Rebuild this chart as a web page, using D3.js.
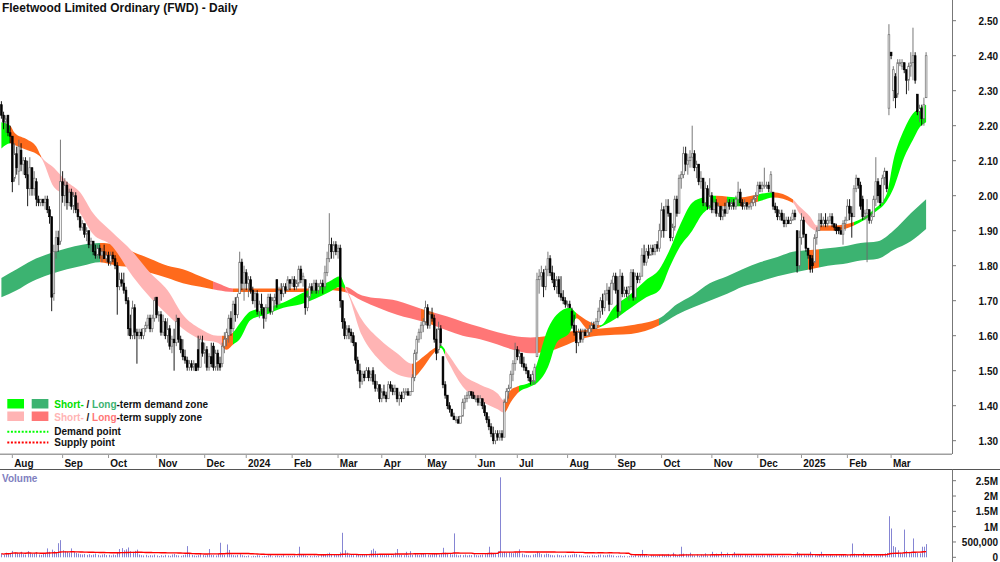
<!DOCTYPE html>
<html>
<head>
<meta charset="utf-8">
<script src="https://cdn.jsdelivr.net/npm/d3@7"></script>
<style>
  body { margin: 0; background: #fff; }
  svg { display: block; font-family: "Liberation Sans", Arial, sans-serif; }
</style>
</head>
<body>
<svg id="chart" width="1000" height="562"></svg>
<script>
// trading days start here, weekends and ASX holidays skipped
var startDate = "2023-07-25";
var holidays = ["2023-12-25", "2023-12-26", "2024-01-01", "2024-01-26", "2024-03-29", "2024-04-01",
                "2024-04-25", "2024-06-10", "2024-12-25", "2024-12-26", "2025-01-01", "2025-01-27"];

var monthLabels = ["Aug", "Sep", "Oct", "Nov", "Dec", "2024", "Feb", "Mar", "Apr", "May", "Jun",
                   "Jul", "Aug", "Sep", "Oct", "Nov", "Dec", "2025", "Feb", "Mar"];

var priceTicks = [1.30, 1.40, 1.50, 1.60, 1.70, 1.80, 1.90, 2.00, 2.10, 2.20, 2.30, 2.40, 2.50];
var volTicks = [0, 500000, 1000000, 1500000, 2000000, 2500000];
var volTickLabels = ["0", "500,000", "1M", "1.5M", "2M", "2.5M"];

// daily prices, one line per month (Jul 2023 .. Mar 2025)
var opens = [
  2.26,2.23,2.21,2.23,2.18,
  2.17,2.05,2.12,2.07,2.13,2.09,2.10,2.06,2.02,2.08,2.02,2.04,1.99,1.98,1.99,1.98,1.99,1.96,1.94,1.72,1.84,1.88,1.87,
  2.04,2.00,2.03,1.98,2.01,1.97,2.00,1.96,1.94,1.91,1.92,1.89,1.90,1.86,1.87,1.84,1.83,1.85,1.83,1.84,1.82,
  1.83,1.81,1.83,1.82,1.80,1.74,1.76,1.75,1.73,1.70,1.62,1.60,1.68,1.61,1.60,1.61,1.60,1.62,1.63,1.65,1.62,1.65,
  1.71,1.66,1.66,1.61,1.64,1.60,1.62,1.57,1.59,1.58,1.65,1.59,1.56,1.54,1.53,1.51,1.52,1.51,1.52,1.56,1.51,1.58,
  1.55,1.56,1.51,1.54,1.57,1.51,1.55,1.52,1.52,1.57,1.59,1.60,1.65,1.62,1.69,1.66,1.72,1.81,1.75,
  1.78,1.75,1.76,1.73,1.70,1.72,1.67,1.69,1.68,1.65,1.68,1.71,1.67,1.70,1.76,1.69,1.73,1.72,1.74,1.73,1.76,
  1.75,1.76,1.74,1.75,1.79,1.76,1.76,1.68,1.71,1.74,1.73,1.75,1.73,1.74,1.75,1.74,1.78,1.82,1.86,1.84,1.86,
  1.84,1.85,1.70,1.64,1.60,1.62,1.61,1.60,1.58,1.53,1.50,1.47,1.49,1.48,1.50,1.48,1.50,1.47,1.45,1.46,
  1.42,1.44,1.43,1.42,1.46,1.45,1.44,1.45,1.42,1.43,1.42,1.44,1.44,1.43,1.44,1.48,1.55,1.59,1.61,1.63,
  1.64,1.68,1.63,1.66,1.65,1.59,1.56,1.62,1.54,1.46,1.43,1.40,1.39,1.37,1.36,1.36,1.35,1.37,1.41,1.42,1.43,1.44,1.43,
  1.42,1.42,1.41,1.42,1.40,1.38,1.36,1.34,1.32,1.30,1.32,1.31,1.32,1.31,1.41,1.44,1.45,1.49,1.52,
  1.56,1.54,1.55,1.52,1.51,1.50,1.48,1.47,1.47,1.54,1.76,1.77,1.78,1.74,1.79,1.82,1.78,1.76,1.74,1.76,1.72,1.71,1.70,
  1.69,1.69,1.67,1.63,1.61,1.58,1.61,1.59,1.61,1.60,1.61,1.62,1.63,1.62,1.64,1.67,1.70,1.68,1.72,1.73,1.69,1.75,
  1.77,1.73,1.67,1.77,1.72,1.73,1.72,1.74,1.78,1.71,1.77,1.76,1.77,1.83,1.81,1.84,1.83,1.85,1.84,1.86,1.85,
  1.90,1.96,1.90,1.97,1.95,1.88,1.91,1.99,1.95,2.05,2.06,2.12,2.09,2.10,2.11,2.12,2.08,2.09,2.04,2.05,1.98,2.02,1.97,
  2.00,1.96,1.98,1.95,1.97,1.94,1.96,1.95,1.98,1.97,1.98,1.97,1.99,2.01,1.98,1.97,1.98,1.97,1.97,1.98,1.99,
  2.00,2.03,2.02,2.03,2.03,2.03,2.01,2.01,1.97,1.96,1.94,1.95,1.93,1.92,1.93,1.92,1.93,1.95,1.90,1.80,
  1.88,1.93,1.89,1.85,1.83,1.82,1.81,1.88,1.90,1.93,1.92,1.93,1.92,1.93,1.94,1.92,1.91,1.91,1.90,1.89,1.92,
  1.93,1.97,1.95,1.94,2.02,2.05,2.03,1.99,1.94,1.95,1.96,1.93,1.94,1.99,2.04,2.03,1.98,2.05,2.07,2.25,
  2.41,2.30,2.34,2.29,2.38,2.37,2.38,2.36,2.33,2.37,2.38,2.40,2.29,2.24,2.25,2.22,2.28
];
var highs = [
  2.27,2.24,2.23,2.23,2.20,
  2.17,2.15,2.14,2.16,2.15,2.11,2.11,2.10,2.11,2.08,2.07,2.05,2.00,1.99,1.99,2.00,2.00,1.97,1.94,1.86,1.90,1.90,2.16,
  2.07,2.05,2.04,2.02,2.02,2.01,2.01,1.98,1.94,1.93,1.92,1.91,1.90,1.88,1.87,1.86,1.86,1.86,1.85,1.86,1.84,
  1.84,1.84,1.84,1.83,1.81,1.78,1.78,1.78,1.74,1.71,1.66,1.70,1.69,1.62,1.62,1.62,1.62,1.64,1.66,1.66,1.66,1.71,
  1.71,1.67,1.67,1.66,1.65,1.65,1.63,1.60,1.62,1.66,1.65,1.60,1.59,1.56,1.54,1.53,1.53,1.53,1.52,1.60,1.60,1.60,
  1.58,1.57,1.55,1.58,1.58,1.56,1.56,1.54,1.58,1.61,1.62,1.66,1.67,1.70,1.71,1.72,1.84,1.82,1.80,
  1.79,1.77,1.77,1.74,1.73,1.73,1.70,1.72,1.68,1.69,1.72,1.72,1.71,1.72,1.76,1.74,1.75,1.75,1.75,1.77,1.76,
  1.77,1.77,1.76,1.80,1.80,1.78,1.76,1.72,1.75,1.75,1.76,1.76,1.75,1.76,1.76,1.80,1.84,1.95,1.88,1.87,1.87,
  1.86,1.86,1.70,1.65,1.63,1.63,1.62,1.61,1.58,1.54,1.52,1.50,1.50,1.51,1.51,1.50,1.51,1.49,1.47,1.46,
  1.45,1.46,1.44,1.47,1.47,1.46,1.46,1.45,1.44,1.44,1.45,1.45,1.45,1.44,1.49,1.56,1.60,1.62,1.64,1.65,
  1.70,1.69,1.67,1.68,1.66,1.62,1.64,1.63,1.54,1.47,1.43,1.41,1.39,1.38,1.37,1.37,1.37,1.42,1.43,1.44,1.44,1.44,1.44,
  1.43,1.43,1.43,1.42,1.41,1.38,1.37,1.35,1.34,1.33,1.33,1.33,1.33,1.42,1.45,1.46,1.50,1.53,1.58,
  1.57,1.56,1.55,1.54,1.52,1.50,1.49,1.50,1.52,1.78,1.79,1.80,1.79,1.80,1.84,1.83,1.80,1.78,1.77,1.77,1.77,1.73,1.71,
  1.70,1.70,1.68,1.66,1.63,1.62,1.62,1.62,1.62,1.62,1.63,1.64,1.64,1.65,1.68,1.71,1.72,1.73,1.75,1.74,1.76,1.78,
  1.78,1.77,1.79,1.78,1.74,1.74,1.74,1.79,1.79,1.78,1.78,1.78,1.85,1.86,1.85,1.86,1.86,1.86,1.86,1.87,1.92,
  1.98,1.97,1.99,1.99,1.95,1.92,2.00,2.00,2.06,2.07,2.14,2.14,2.12,2.13,2.20,2.13,2.10,2.09,2.07,2.05,2.04,2.03,2.05,
  2.01,1.99,1.99,1.98,1.97,1.97,1.98,1.99,1.99,1.99,1.99,2.00,2.04,2.02,1.99,1.99,1.98,1.98,1.99,2.00,2.01,
  2.04,2.04,2.04,2.08,2.04,2.04,2.07,2.01,1.98,1.97,1.96,1.96,1.95,1.94,1.94,1.94,1.96,1.96,1.90,1.90,
  1.95,1.94,1.89,1.85,1.83,1.83,1.89,1.91,1.95,1.95,1.94,1.95,1.94,1.95,1.95,1.92,1.92,1.91,1.91,1.93,1.94,
  1.99,1.99,1.97,2.03,2.06,2.05,2.04,2.00,1.96,1.99,1.96,1.95,2.00,2.11,2.05,2.03,2.06,2.08,2.07,2.49,
  2.41,2.37,2.35,2.39,2.39,2.39,2.38,2.36,2.38,2.41,2.48,2.41,2.29,2.26,2.26,2.28,2.41
];
var lows = [
  2.22,2.19,2.18,2.17,2.15,
  2.01,2.04,2.06,2.03,2.07,2.06,2.05,1.97,2.00,2.00,2.00,1.97,1.97,1.97,1.97,1.96,1.95,1.92,1.67,1.70,1.82,1.84,1.86,
  1.98,1.97,1.96,1.97,1.96,1.95,1.95,1.93,1.90,1.90,1.88,1.87,1.85,1.84,1.83,1.82,1.82,1.82,1.81,1.82,1.81,
  1.80,1.80,1.81,1.79,1.66,1.73,1.74,1.72,1.69,1.60,1.59,1.59,1.59,1.52,1.59,1.59,1.59,1.61,1.62,1.61,1.61,1.64,
  1.65,1.64,1.60,1.60,1.59,1.58,1.56,1.55,1.50,1.57,1.58,1.55,1.53,1.52,1.50,1.50,1.50,1.50,1.50,1.50,1.51,1.54,
  1.52,1.50,1.50,1.51,1.50,1.50,1.50,1.50,1.51,1.55,1.57,1.58,1.60,1.61,1.64,1.65,1.72,1.73,1.70,
  1.73,1.71,1.72,1.69,1.68,1.66,1.65,1.66,1.62,1.64,1.67,1.66,1.66,1.68,1.68,1.69,1.70,1.71,1.72,1.73,1.73,
  1.74,1.73,1.73,1.74,1.75,1.74,1.66,1.67,1.70,1.72,1.72,1.72,1.72,1.73,1.72,1.73,1.77,1.81,1.82,1.82,1.83,
  1.82,1.68,1.62,1.59,1.59,1.59,1.58,1.57,1.52,1.49,1.45,1.46,1.47,1.48,1.47,1.47,1.46,1.44,1.44,1.41,
  1.41,1.42,1.41,1.42,1.44,1.43,1.43,1.41,1.40,1.41,1.42,1.43,1.43,1.43,1.44,1.47,1.53,1.58,1.59,1.61,
  1.63,1.62,1.62,1.64,1.58,1.53,1.55,1.57,1.45,1.42,1.39,1.38,1.37,1.36,1.35,1.35,1.35,1.37,1.39,1.41,1.42,1.42,1.42,
  1.41,1.40,1.40,1.39,1.37,1.35,1.33,1.31,1.29,1.29,1.30,1.30,1.30,1.31,1.41,1.42,1.45,1.47,1.50,
  1.53,1.52,1.51,1.50,1.49,1.47,1.46,1.46,1.46,1.54,1.72,1.74,1.71,1.73,1.77,1.77,1.75,1.73,1.72,1.71,1.70,1.69,1.68,
  1.68,1.68,1.62,1.60,1.55,1.57,1.58,1.58,1.60,1.60,1.60,1.61,1.62,1.62,1.63,1.65,1.66,1.67,1.70,1.67,1.69,1.73,
  1.72,1.65,1.66,1.71,1.71,1.71,1.70,1.73,1.70,1.70,1.75,1.75,1.77,1.80,1.80,1.82,1.83,1.83,1.83,1.84,1.84,
  1.88,1.88,1.90,1.94,1.87,1.87,1.90,1.94,1.95,2.02,2.05,2.07,2.06,2.08,2.08,2.07,2.05,2.03,2.02,1.97,1.97,1.96,1.96,
  1.95,1.95,1.94,1.94,1.93,1.93,1.94,1.95,1.96,1.96,1.96,1.96,1.97,1.97,1.96,1.96,1.96,1.96,1.96,1.97,1.97,
  2.00,2.01,2.01,2.02,2.02,2.01,2.01,1.96,1.95,1.93,1.93,1.93,1.91,1.91,1.92,1.92,1.93,1.93,1.78,1.79,
  1.86,1.88,1.84,1.82,1.78,1.78,1.81,1.86,1.90,1.91,1.91,1.91,1.91,1.92,1.91,1.90,1.89,1.89,1.89,1.86,1.90,
  1.93,1.93,1.88,1.94,2.01,2.02,1.96,1.93,1.93,1.81,1.92,1.92,1.94,1.97,1.98,1.97,1.98,2.03,2.01,2.23,
  2.39,2.27,2.25,2.28,2.37,2.36,2.35,2.29,2.30,2.34,2.33,2.32,2.23,2.21,2.20,2.20,2.28
];
var closes = [
  2.23,2.21,2.22,2.18,2.17,
  2.04,2.12,2.08,2.14,2.09,2.10,2.06,2.02,2.08,2.02,2.05,1.99,1.98,1.99,1.98,1.99,1.96,1.94,1.71,1.84,1.88,1.86,2.04,
  2.00,2.03,1.98,2.01,1.97,2.00,1.96,1.94,1.91,1.92,1.89,1.90,1.86,1.87,1.84,1.83,1.85,1.83,1.84,1.82,1.83,
  1.81,1.83,1.82,1.80,1.74,1.76,1.75,1.73,1.70,1.62,1.60,1.68,1.61,1.60,1.61,1.60,1.62,1.63,1.65,1.62,1.65,1.70,
  1.66,1.66,1.61,1.64,1.60,1.62,1.57,1.59,1.58,1.64,1.59,1.56,1.54,1.53,1.51,1.52,1.51,1.52,1.50,1.51,1.59,1.55,
  1.56,1.51,1.54,1.52,1.51,1.55,1.52,1.51,1.57,1.59,1.61,1.65,1.62,1.69,1.66,1.71,1.81,1.75,1.78,
  1.75,1.76,1.73,1.70,1.72,1.67,1.69,1.68,1.65,1.68,1.71,1.67,1.70,1.71,1.69,1.73,1.72,1.74,1.73,1.76,1.75,
  1.76,1.74,1.75,1.79,1.76,1.77,1.68,1.71,1.74,1.73,1.75,1.73,1.74,1.75,1.74,1.78,1.82,1.86,1.84,1.86,1.84,
  1.85,1.70,1.64,1.60,1.62,1.61,1.60,1.58,1.53,1.50,1.47,1.49,1.48,1.50,1.48,1.49,1.47,1.45,1.46,1.42,
  1.44,1.43,1.42,1.46,1.45,1.44,1.45,1.42,1.43,1.42,1.44,1.44,1.43,1.44,1.48,1.55,1.59,1.61,1.63,1.64,
  1.68,1.63,1.66,1.65,1.59,1.55,1.62,1.58,1.46,1.43,1.40,1.39,1.37,1.36,1.36,1.35,1.37,1.41,1.42,1.43,1.44,1.43,1.42,
  1.42,1.41,1.42,1.40,1.38,1.36,1.34,1.32,1.30,1.32,1.31,1.32,1.31,1.41,1.44,1.45,1.49,1.52,1.56,
  1.54,1.55,1.52,1.51,1.50,1.48,1.47,1.49,1.51,1.76,1.77,1.78,1.74,1.79,1.82,1.78,1.76,1.74,1.76,1.72,1.71,1.70,1.69,
  1.69,1.68,1.63,1.61,1.58,1.61,1.59,1.61,1.60,1.61,1.62,1.63,1.62,1.64,1.67,1.70,1.68,1.72,1.73,1.69,1.75,1.77,
  1.73,1.67,1.77,1.72,1.73,1.72,1.74,1.78,1.71,1.77,1.76,1.77,1.83,1.81,1.84,1.83,1.85,1.84,1.86,1.85,1.90,
  1.96,1.90,1.97,1.95,1.88,1.91,1.99,1.95,2.05,2.06,2.12,2.09,2.10,2.11,2.12,2.08,2.09,2.04,2.05,1.98,2.02,1.97,2.00,
  1.96,1.98,1.95,1.97,1.94,1.96,1.95,1.98,1.97,1.98,1.97,1.99,2.01,1.98,1.97,1.98,1.97,1.97,1.98,1.99,2.00,
  2.03,2.02,2.03,2.03,2.03,2.02,2.06,1.97,1.96,1.94,1.95,1.93,1.92,1.93,1.92,1.93,1.95,1.94,1.80,1.88,
  1.93,1.89,1.85,1.83,1.79,1.80,1.88,1.90,1.93,1.92,1.93,1.92,1.93,1.94,1.92,1.91,1.90,1.90,1.89,1.92,1.93,
  1.97,1.95,1.94,2.02,2.05,2.03,1.97,1.94,1.95,1.96,1.93,1.94,1.99,2.04,2.00,1.98,2.05,2.07,2.02,2.46,
  2.40,2.36,2.28,2.38,2.38,2.38,2.36,2.33,2.37,2.38,2.40,2.33,2.24,2.25,2.22,2.26,2.40
];
// daily volume, thousands of shares
var volumesK = [
  120,90,150,110,130,
  210,160,140,120,180,100,90,200,150,110,130,170,90,80,110,120,290,180,250,200,170,460,560,
  230,200,180,150,290,170,140,120,100,90,110,80,100,70,90,120,80,60,90,110,70,
  80,60,90,70,150,270,300,230,260,320,200,180,210,250,90,70,60,80,50,70,60,90,
  60,40,70,50,80,60,50,90,110,70,60,50,70,90,365,120,80,60,50,70,100,80,
  60,90,270,80,70,60,110,475,90,80,420,240,90,70,60,80,100,70,50,
  40,60,30,50,40,70,60,30,50,40,60,80,30,50,60,40,50,70,30,50,40,
  40,60,50,345,70,80,60,40,50,30,60,40,50,70,80,100,120,150,110,90,70,
  80,160,800,230,150,80,100,70,90,110,60,80,70,90,60,230,280,210,120,100,
  90,70,80,100,60,80,150,270,90,80,70,180,60,200,80,110,90,70,100,120,
  140,90,80,100,110,120,90,130,310,150,100,120,90,780,90,60,80,70,90,60,80,70,100,
  70,60,80,90,100,120,345,150,110,140,200,2610,160,180,150,170,140,130,160,
  150,260,120,90,80,70,60,90,110,180,140,100,90,120,110,80,70,60,90,70,60,50,80,
  60,70,90,120,100,80,60,50,40,60,50,70,60,40,80,90,70,60,80,90,70,60,
  40,50,60,40,50,30,40,60,50,70,60,80,240,90,60,50,70,60,40,50,80,
  90,70,60,110,80,150,90,70,100,345,120,110,90,150,70,60,100,50,90,70,130,60,80,
  180,90,120,70,180,100,80,150,60,90,170,70,110,80,60,90,70,50,80,60,70,
  60,50,80,60,90,70,110,60,50,70,40,60,50,30,40,50,60,80,170,120,
  90,70,60,80,180,100,70,60,90,180,70,60,50,80,60,50,70,60,90,80,60,
  70,90,450,120,100,80,60,150,90,70,60,80,50,70,60,90,110,130,140,1340,
  940,365,330,230,150,120,905,210,180,130,615,150,140,130,345,345,430
];

// short-term zone ribbon: day index, upper and lower edge
var shortIdx = [0,4,6,12,16,18,24,30,36,42,50,60,68,76,83,91,99,103,106,109,114,121,129,137,150,155,
  157,165,173,181,188,193,197,201,204,211,219,227,230,233,236,242,245,250,254,260,263,269,274,280,288,
  295,301,306,310,316,321,327,338,347,353,362,365,370,373,381,390,399,405,408,413,417,420,423];
var shortHi = [2.21,2.20,2.18,2.16,2.14,2.115,2.08,2.04,2.01,1.95,1.90,1.84,1.78,1.73,1.66,1.62,1.60,1.60,
  1.61,1.635,1.67,1.68,1.695,1.72,1.755,1.77,1.745,1.645,1.59,1.55,1.52,1.54,1.56,1.572,1.55,1.49,1.46,
  1.435,1.415,1.445,1.455,1.467,1.52,1.62,1.66,1.68,1.665,1.64,1.63,1.68,1.72,1.76,1.79,1.85,1.91,1.98,
  1.995,2.00,1.995,2.005,2.01,1.99,1.97,1.94,1.915,1.915,1.925,1.96,2.005,2.10,2.19,2.235,2.25,2.26];
var shortLo = [2.135,2.15,2.145,2.13,2.12,2.11,2.025,2.00,1.95,1.89,1.86,1.77,1.71,1.66,1.62,1.59,1.58,1.56,
  1.575,1.59,1.645,1.66,1.68,1.69,1.725,1.74,1.735,1.60,1.53,1.49,1.48,1.51,1.545,1.565,1.53,1.455,1.415,
  1.39,1.38,1.41,1.435,1.455,1.465,1.51,1.58,1.61,1.65,1.615,1.625,1.645,1.68,1.71,1.73,1.80,1.85,1.90,
  1.95,1.97,1.97,1.985,1.995,1.98,1.95,1.91,1.90,1.90,1.915,1.95,1.985,2.02,2.11,2.16,2.195,2.21];
var shortZoneIdx = [0,4,18,101,106,157,188,200,203,230,237,263,274,327,332,338,346,353,362,374,390];
var shortZone = ["D","N","S","N","D","S","N","D","S","N","D","N","D","N","D","N","D","N","S","N","D"];

// long-term zone ribbon
var longIdx = [0,7,14,22,30,37,45,53,60,68,76,83,91,99,106,114,137,150,157,165,181,193,204,211,219,
  227,234,242,250,257,265,273,288,301,309,316,324,332,339,347,355,362,370,378,385,393,401,408,416,423];
var longHi = [1.765,1.79,1.815,1.835,1.85,1.86,1.865,1.86,1.84,1.82,1.80,1.79,1.77,1.75,1.735,1.735,
  1.735,1.735,1.74,1.715,1.70,1.675,1.655,1.64,1.625,1.61,1.60,1.595,1.60,1.61,1.615,1.62,1.63,1.65,
  1.69,1.715,1.75,1.77,1.79,1.81,1.825,1.84,1.845,1.85,1.855,1.865,1.87,1.90,1.95,1.99];
var longLo = [1.71,1.73,1.755,1.775,1.79,1.80,1.81,1.80,1.795,1.78,1.765,1.75,1.74,1.73,1.725,1.725,
  1.725,1.73,1.725,1.70,1.66,1.64,1.615,1.60,1.59,1.575,1.56,1.55,1.555,1.57,1.59,1.60,1.605,1.63,
  1.66,1.68,1.70,1.72,1.74,1.755,1.77,1.78,1.79,1.80,1.805,1.815,1.82,1.845,1.87,1.905];
var longZoneIdx = [0,45,97,106,157,192,198,245,301,369,374];
var longZone = ["D","N","S","N","S","N","S","N","D","N","D"];

var shortColours = { D: "#00ff00", S: "#ffb4b4", N: "#ff6a1c" };
var longColours = { D: "#3cb371", S: "#ff7676", N: "#ff6a1c" };

// ---------------------------------------------------------------
var svg = d3.select("#chart");
var n = closes.length;
var squeeze = 0.87;

var parseDay = d3.timeParse("%Y-%m-%d"), fmtDay = d3.timeFormat("%Y-%m-%d");
var dates = [];
var day = parseDay(startDate);
while (dates.length < n) {
  var wd = day.getDay();
  if (wd !== 0 && wd !== 6 && holidays.indexOf(fmtDay(day)) < 0) dates.push(day);
  day = d3.timeDay.offset(day, 1);
}
var monthStarts = [];
dates.forEach(function(d, i) {
  if (i > 0 && d.getMonth() !== dates[i - 1].getMonth()) monthStarts.push(i);
});

var x = d3.scaleLinear().domain([0, n - 1]).range([1.4, 926.1]);
var y = d3.scaleLinear().domain([1.30, 2.50]).range([440.7, 20.7]);
var yv = d3.scaleLinear().domain([0, 2500000]).range([557.3, 480.7]);

function label(sel, tx, ty, sx) {
  return sel.attr("transform", "translate(" + tx + "," + ty + ") scale(" + (sx || squeeze) + ",1)");
}

var defs = svg.append("defs");
defs.append("clipPath").attr("id", "plotclip")
  .append("rect").attr("x", 0).attr("y", 0).attr("width", 952).attr("height", 454);
var plot = svg.append("g").attr("clip-path", "url(#plotclip)");

function drawBand(idx, hi, lo, zIdx, zone, colours, id) {
  var pts = idx.map(function(d, i) { return { i: d, hi: hi[i], lo: lo[i] }; });
  var x0 = x(0), span = x(n - 1) - x(0);
  var grad = defs.append("linearGradient").attr("id", id)
    .attr("gradientUnits", "userSpaceOnUse")
    .attr("x1", x0).attr("x2", x(n - 1)).attr("y1", 0).attr("y2", 0);
  zIdx.forEach(function(s, k) {
    var e = k < zIdx.length - 1 ? zIdx[k + 1] : n - 1;
    var c = colours[zone[k]];
    grad.append("stop").attr("offset", (x(s) - x0) / span).attr("stop-color", c);
    grad.append("stop").attr("offset", (x(e) - x0) / span).attr("stop-color", c);
  });
  var area = d3.area()
    .x(function(d) { return x(d.i); })
    .y0(function(d) { return y(d.lo); })
    .y1(function(d) { return y(d.hi); })
    .curve(d3.curveMonotoneX);
  plot.append("path").datum(pts).attr("fill", "url(#" + id + ")").attr("d", area);
}

drawBand(longIdx, longHi, longLo, longZoneIdx, longZone, longColours, "longgrad");
drawBand(shortIdx, shortHi, shortLo, shortZoneIdx, shortZone, shortColours, "shortgrad");

// candles
var days = d3.range(n);
function up(i) { return closes[i] >= opens[i]; }
plot.selectAll("line.wick").data(days).enter().append("line")
  .attr("class", "wick")
  .attr("x1", function(i) { return x(i); })
  .attr("x2", function(i) { return x(i); })
  .attr("y1", function(i) { return y(highs[i]); })
  .attr("y2", function(i) { return y(lows[i]); })
  .attr("stroke", function(i) { return up(i) ? "#6a6a6a" : "#000"; })
  .attr("stroke-width", 0.9);
plot.selectAll("rect.body").data(days).enter().append("rect")
  .attr("class", "body")
  .attr("x", function(i) { return x(i) - 0.85; })
  .attr("width", 1.7)
  .attr("y", function(i) { return y(Math.max(opens[i], closes[i])); })
  .attr("height", function(i) { return Math.max(1, Math.abs(y(opens[i]) - y(closes[i]))); })
  .attr("fill", function(i) { return up(i) ? "#fff" : "#000"; })
  .attr("stroke", function(i) { return up(i) ? "#6a6a6a" : "#000"; })
  .attr("stroke-width", 0.7);

// title
label(svg.append("text"), 2, 12, 0.95)
  .attr("font-size", 12.6).attr("font-weight", "bold").attr("fill", "#111")
  .text("Fleetwood Limited Ordinary (FWD) - Daily");

// legend
var lg = svg.append("g");
lg.append("rect").attr("x", 7.3).attr("y", 399).attr("width", 16.7).attr("height", 9.5).attr("fill", shortColours.D);
lg.append("rect").attr("x", 31.7).attr("y", 399).attr("width", 16.7).attr("height", 9.5).attr("fill", longColours.D);
lg.append("rect").attr("x", 7.3).attr("y", 411.5).attr("width", 16.7).attr("height", 9.5).attr("fill", shortColours.S);
lg.append("rect").attr("x", 31.7).attr("y", 411.5).attr("width", 16.7).attr("height", 9.5).attr("fill", longColours.S);
lg.append("line").attr("x1", 7.3).attr("x2", 48.4).attr("y1", 431.7).attr("y2", 431.7)
  .attr("stroke", "#00ff00").attr("stroke-width", 2).attr("stroke-dasharray", "2,1.6");
lg.append("line").attr("x1", 7.3).attr("x2", 48.4).attr("y1", 442.4).attr("y2", 442.4)
  .attr("stroke", "#ff0000").attr("stroke-width", 2).attr("stroke-dasharray", "2,1.6");

var legendRows = [
  { ty: 408.3, parts: [["Short-", "#00e000"], [" / ", "#111"], ["Long", longColours.D], ["-term demand zone", "#111"]] },
  { ty: 420.5, parts: [["Short-", shortColours.S], [" / ", "#111"], ["Long", longColours.S], ["-term supply zone", "#111"]] },
  { ty: 435.2, parts: [["Demand point", "#111"]] },
  { ty: 446.4, parts: [["Supply point", "#111"]] }
];
legendRows.forEach(function(r) {
  var t = label(lg.append("text"), 54.3, r.ty).attr("font-size", 11.5).attr("font-weight", "bold");
  r.parts.forEach(function(p) { t.append("tspan").attr("fill", p[1]).text(p[0]); });
});

// date band
svg.append("line").attr("x1", 0).attr("x2", 952).attr("y1", 454.2).attr("y2", 454.2)
  .attr("stroke", "#a0a0a0").attr("stroke-width", 1.6);
svg.append("line").attr("x1", 0).attr("x2", 1000).attr("y1", 469.5).attr("y2", 469.5)
  .attr("stroke", "#555").attr("stroke-width", 1);
monthStarts.forEach(function(i, k) {
  svg.append("line").attr("x1", x(i)).attr("x2", x(i)).attr("y1", 455).attr("y2", 458)
    .attr("stroke", "#999").attr("stroke-width", 1);
  label(svg.append("text"), x(i) + 1.8, 466.6)
    .attr("font-size", 11.5).attr("font-weight", "bold").attr("fill", "#111")
    .text(monthLabels[k]);
});

// price axis
svg.append("line").attr("x1", 952.5).attr("x2", 952.5).attr("y1", 0).attr("y2", 454)
  .attr("stroke", "#777").attr("stroke-width", 1);
priceTicks.forEach(function(p) {
  svg.append("line").attr("x1", 952.5).attr("x2", 956).attr("y1", y(p)).attr("y2", y(p))
    .attr("stroke", "#777").attr("stroke-width", 1);
  label(svg.append("text"), 998, y(p) + 4)
    .attr("font-size", 11.5).attr("font-weight", "bold").attr("fill", "#111")
    .attr("text-anchor", "end").text(p.toFixed(2));
});

// volume pane
var vol = volumesK.map(function(v) { return v * 1000; });
svg.append("g").selectAll("line").data(days).enter().append("line")
  .attr("x1", function(i) { return Math.round(x(i)) + 0.5; })
  .attr("x2", function(i) { return Math.round(x(i)) + 0.5; })
  .attr("y1", yv(0))
  .attr("y2", function(i) { return yv(vol[i]); })
  .attr("stroke", "#8585d3").attr("stroke-width", 1);

var avgLen = 60;
var volAvg = days.map(function(i) {
  return d3.mean(vol.slice(Math.max(0, i - avgLen + 1), i + 1));
});
svg.append("path").datum(days)
  .attr("fill", "none").attr("stroke", "#ff0000").attr("stroke-width", 1.4)
  .attr("d", d3.line().x(function(i) { return x(i); }).y(function(i) { return yv(volAvg[i]); }));

label(svg.append("text"), 2, 482)
  .attr("font-size", 11.5).attr("font-weight", "bold").attr("fill", "#8080c0").text("Volume");

svg.append("line").attr("x1", 952.5).attr("x2", 952.5).attr("y1", 469.5).attr("y2", 562)
  .attr("stroke", "#777").attr("stroke-width", 1);
volTicks.forEach(function(v, k) {
  svg.append("line").attr("x1", 952.5).attr("x2", 956).attr("y1", yv(v)).attr("y2", yv(v))
    .attr("stroke", "#777").attr("stroke-width", 1);
  label(svg.append("text"), 998, yv(v) + 4)
    .attr("font-size", 11.5).attr("font-weight", "bold").attr("fill", "#111")
    .attr("text-anchor", "end").text(volTickLabels[k]);
});
</script>
</body>
</html>
